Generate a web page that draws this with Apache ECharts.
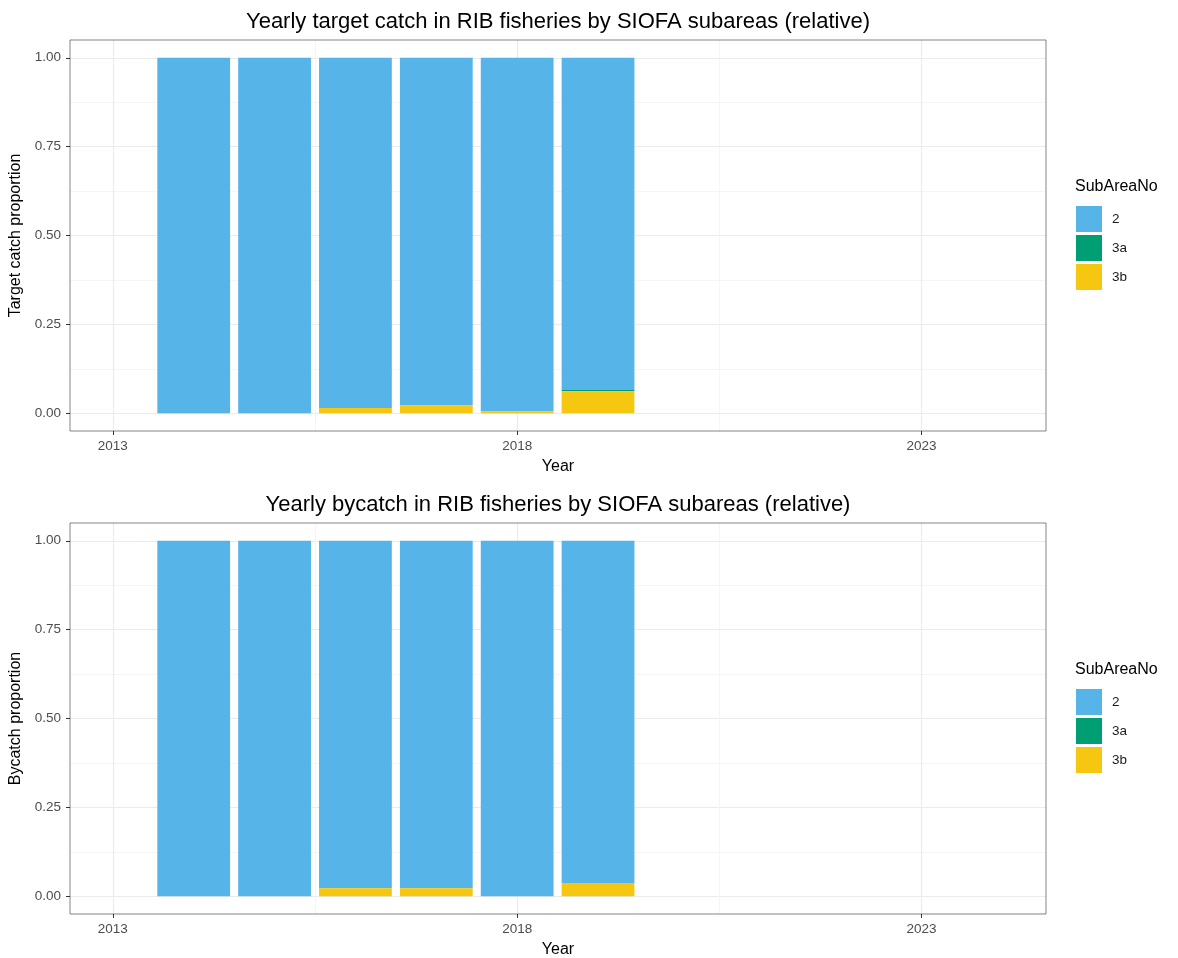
<!DOCTYPE html>
<html><head><meta charset="utf-8">
<script src="https://cdn.jsdelivr.net/npm/echarts@6/dist/echarts.min.js"></script>
<style>html,body{margin:0;padding:0;background:#fff}#c{width:1178px;height:958px}</style>
</head><body><div id="c"></div>
<script>
const years = [2014, 2015, 2016, 2017, 2018, 2019];
const subareas = ['2', '3a', '3b'];
const colors = ['#56B4E9', '#009E73', '#F5C710'];
// target catch proportions (panel 1)
const target_2  = [1.000, 1.000, 0.985, 0.9775, 0.9944, 0.935];
const target_3a = [0.000, 0.000, 0.000, 0.000, 0.000, 0.003];
const target_3b = [0.000, 0.000, 0.015, 0.0225, 0.0056, 0.062];
// bycatch proportions (panel 2)
const bycatch_2  = [1.000, 1.000, 0.9775, 0.9775, 1.000, 0.9625];
const bycatch_3a = [0.000, 0.000, 0.000, 0.000, 0.000, 0.000];
const bycatch_3b = [0.000, 0.000, 0.0225, 0.0225, 0.000, 0.0375];
const xTicks = [2013, 2018, 2023];
const xMinor = [2015.5, 2020.5];
const yTicks = [0, 0.25, 0.5, 0.75, 1.0];
const yMinor = [0.125, 0.375, 0.625, 0.875];
const titles = ['Yearly target catch in RIB fisheries by SIOFA subareas (relative)',
                'Yearly bycatch in RIB fisheries by SIOFA subareas (relative)'];
const yNames = ['Target catch proportion', 'Bycatch proportion'];

const panels = [[target_3b, target_3a, target_2], [bycatch_3b, bycatch_3a, bycatch_2]];
// stacking order from bottom: 3b, 3a, 2
const stackNames = ['3b', '3a', '2'];
const FONT = '"Liberation Sans", Arial, sans-serif';
const XMIN = 2012.47, XMAX = 2024.54, YMIN = -0.05, YMAX = 1.05;
const gridTops = [40, 523];

const grids = [], xAxes = [], yAxes = [], series = [], legends = [], titleArr = [], graphics = [];
gridTops.forEach((top, p) => {
  grids.push({left: 70, top: top, width: 976, height: 391, show: true, outerBoundsMode: 'none', containLabel: false,
    borderColor: '#333', borderWidth: 0.6, backgroundColor: 'transparent', z: 5});
  const gx = {gridIndex: p, type: 'value', min: XMIN, max: XMAX, position: 'bottom', axisLine: {show: false, onZero: false}};
  xAxes.push(Object.assign({}, gx, {
    name: 'Year', nameLocation: 'middle', nameGap: 28,
    nameTextStyle: {fontFamily: FONT, fontSize: 16, color: '#000'},
    axisTick: {show: true, length: 4, lineStyle: {color: '#333', width: 1}, customValues: xTicks},
    axisLabel: {customValues: xTicks, formatter: v => String(v), fontFamily: FONT, fontSize: 13.5, color: '#4D4D4D', margin: 8},
    splitLine: {show: true, lineStyle: {color: '#EBEBEB', width: 1.2}}
  }));
  xAxes.push(Object.assign({}, gx, {
    axisTick: {show: false, customValues: xMinor},
    axisLabel: {show: false, customValues: xMinor},
    splitLine: {show: true, lineStyle: {color: '#F2F2F2', width: 0.8}}
  }));
  const gy = {gridIndex: p, type: 'value', min: YMIN, max: YMAX, position: 'left', axisLine: {show: false, onZero: false}};
  yAxes.push(Object.assign({}, gy, {
    name: yNames[p], nameLocation: 'middle', nameGap: 41,
    nameTextStyle: {fontFamily: FONT, fontSize: 16, color: '#000'},
    axisTick: {show: true, length: 4, lineStyle: {color: '#333', width: 1}, customValues: yTicks},
    axisLabel: {customValues: yTicks, formatter: v => v.toFixed(2), fontFamily: FONT, fontSize: 13.5, color: '#4D4D4D', margin: 9},
    splitLine: {show: true, lineStyle: {color: '#EBEBEB', width: 1.2}}
  }));
  yAxes.push(Object.assign({}, gy, {
    axisTick: {show: false, customValues: yMinor},
    axisLabel: {show: false, customValues: yMinor},
    splitLine: {show: true, lineStyle: {color: '#F2F2F2', width: 0.8}}
  }));
  titleArr.push({text: titles[p], left: 558, textAlign: 'center', top: top - 29, padding: 0,
    textStyle: {fontFamily: FONT, fontSize: 22, fontWeight: 'normal', color: '#000'}});

  const layers = panels[p];
  const cum = years.map(() => 0);
  const seriesByName = {};
  layers.forEach((vals, li) => {
    const data = years.map((y, i) => {
      const s = cum[i]; cum[i] += vals[i];
      return [y, s, cum[i]];
    });
    const col = colors[subareas.indexOf(stackNames[li])];
    seriesByName[stackNames[li]] = {
      type: 'custom', name: stackNames[li], xAxisIndex: 2 * p, yAxisIndex: 2 * p,
      coordinateSystem: 'cartesian2d', z: 3,
      itemStyle: {color: col},
      encode: {x: 0, y: [1, 2]},
      renderItem: (params, api) => {
        const x = api.value(0), y0 = api.value(1), y1 = api.value(2);
        if (y1 - y0 <= 0) return null;
        const pTop = api.coord([x, y1]);
        const pBot = api.coord([x, y0]);
        const w = api.size([0.9, 0])[0];
        return {type: 'rect', shape: {x: pTop[0] - w / 2, y: pTop[1], width: w, height: pBot[1] - pTop[1]},
          style: {fill: col}};
      },
      data: data
    };
  });
  subareas.forEach(n => series.push(seriesByName[n]));
  const legTop = p === 0 ? 206 : 689;
  legends.push({orient: 'vertical', left: 1076, top: legTop, padding: 0, itemWidth: 26, itemHeight: 26, itemGap: 3,
    icon: 'rect', data: subareas.slice(), selectedMode: false,
    textStyle: {fontFamily: FONT, fontSize: 13.5, color: '#1A1A1A', padding: [0, 0, 0, 5]}});
  graphics.push({type: 'text', left: 1075, top: legTop - 27,
    style: {text: 'SubAreaNo', fontFamily: FONT, fontSize: 16, fill: '#000'}});
});

const chart = echarts.init(document.getElementById('c'), null, {renderer: 'canvas'});
chart.setOption({
  animation: false, backgroundColor: '#fff',
  title: titleArr, grid: grids, xAxis: xAxes, yAxis: yAxes, series: series, legend: legends, graphic: graphics
});
</script></body></html>
